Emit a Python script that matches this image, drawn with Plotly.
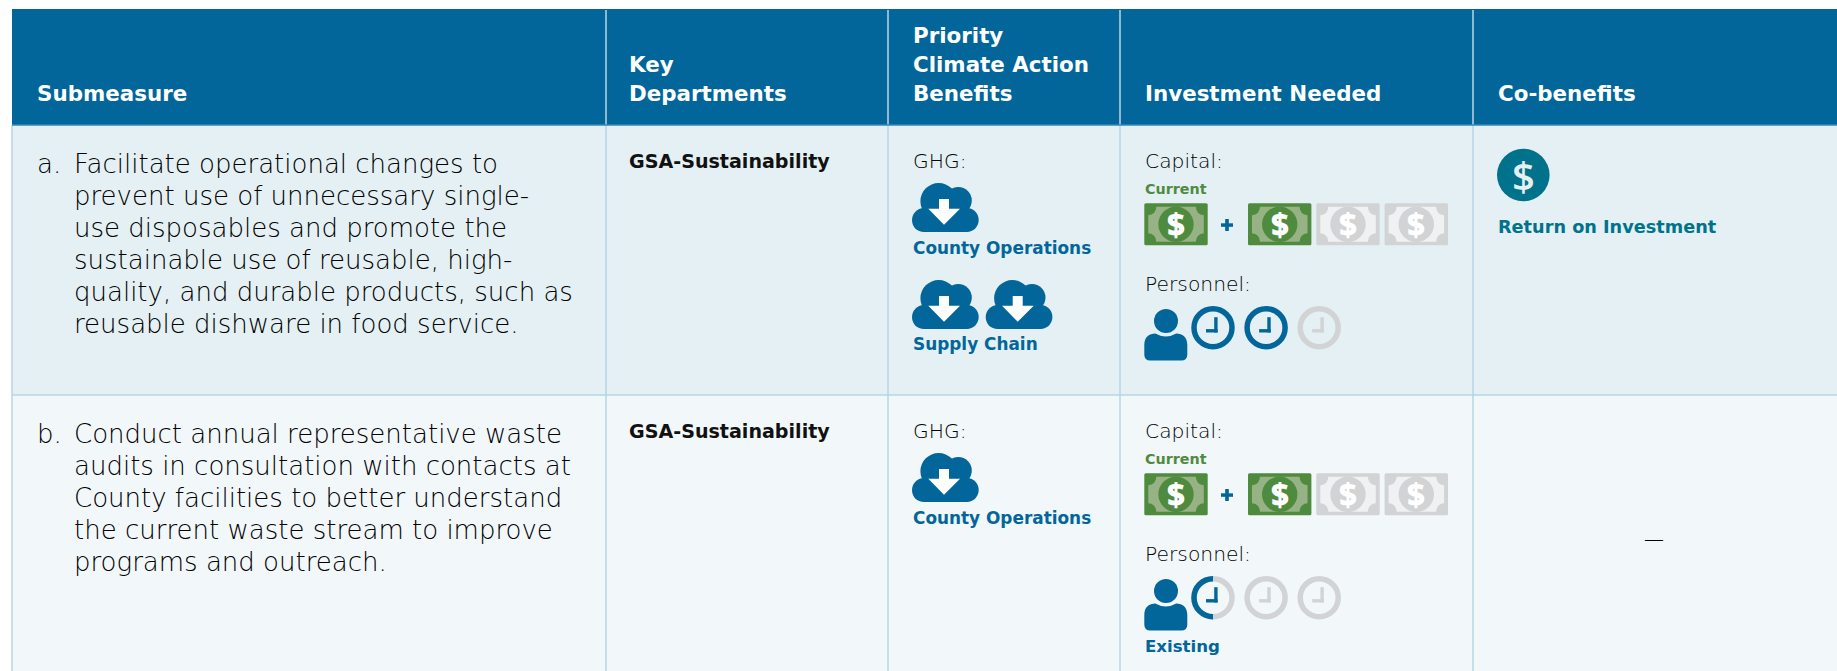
import plotly.graph_objects as go

# ---------- data ----------
header_labels = [["Submeasure"], ["Key", "Departments"], ["Priority", "Climate Action", "Benefits"],
                 ["Investment Needed"], ["Co-benefits"]]
row_letters = ["a.", "b."]
submeasure_lines = [
    ["Facilitate operational changes to", "prevent use of unnecessary single-",
     "use disposables and promote the", "sustainable use of reusable, high-",
     "quality, and durable products, such as", "reusable dishware in food service."],
    ["Conduct annual representative waste", "audits in consultation with contacts at",
     "County facilities to better understand", "the current waste stream to improve",
     "programs and outreach."],
]
departments = ["GSA-Sustainability", "GSA-Sustainability"]
ghg_labels = [["County Operations", "Supply Chain"], ["County Operations"]]
ghg_clouds = [[1, 2], [1]]
capital_current = [1, 1]
capital_added = [1, 1]
capital_scale = 3
personnel_hours = [[1, 1, 0], [0.5, 0, 0]]
personnel_notes = ["", "Existing"]
cobenefits = ["Return on Investment", None]

# ---------- style ----------
W, H = 1837, 671
BLUE = "#02669a"; GREEN = "#4f8b3f"; LGREEN = "#97b385"; GRAY = "#d1d3d4"; LGRAY = "#f0f1f2"
TEAL = "#00728c"; INK = "#000000"; GRID = "#b7d4e4"
ROW_BG = ["#e4f0f3", "#f2f7fa"]
LIGHT = "DejaVu Sans"; BOLD = "DejaVu Sans"
COL_X = [12, 606, 888, 1120, 1473]
TEXT_X = [36, 628, 911.5, 1144.3, 1496.5]
HEAD_TOP, HEAD_BOT, ROW_H = 9, 125, 270

shapes, ann = [], []

def text(x, y, s, size, color, weight=200, anchor="left", family=LIGHT):
    ann.append(dict(x=x, y=y, xref="x", yref="y", text=s, showarrow=False, xanchor=anchor, yanchor="middle",
                    align="left", borderpad=0,
                    font=dict(family=family, size=size, color=color, weight=weight)))

def path(d, fill=None, line=None, lw=0):
    s = dict(type="path", xref="x", yref="y", path=d, line=dict(width=lw, color=line or "rgba(0,0,0,0)"))
    s["fillcolor"] = fill or "rgba(0,0,0,0)"
    shapes.append(s)

def rect(x0, y0, x1, y1, fill, line=None, lw=0):
    shapes.append(dict(type="rect", xref="x", yref="y", x0=x0, y0=y0, x1=x1, y1=y1, fillcolor=fill,
                       line=dict(width=lw, color=line or "rgba(0,0,0,0)")))

def circle(cx, cy, r, fill=None, line=None, lw=0):
    shapes.append(dict(type="circle", xref="x", yref="y", x0=cx-r, x1=cx+r, y0=cy-r, y1=cy+r,
                       fillcolor=fill or "rgba(0,0,0,0)", line=dict(width=lw, color=line or "rgba(0,0,0,0)")))

def cloud(x, y):
    circle(x+26.7, y+18.3, 18.3, BLUE)
    circle(x+46.3, y+17.5, 13.5, BLUE)
    d = (f"M{x+12},{y+25} H{x+55} C{x+62},{y+25} {x+66.7},{y+31} {x+66.7},{y+37} "
         f"C{x+66.7},{y+44} {x+61},{y+49} {x+55},{y+49} H{x+12} "
         f"C{x+5},{y+49} {x},{y+44} {x},{y+37} C{x},{y+31} {x+5},{y+25} {x+12},{y+25} Z")
    path(d, BLUE)
    a = (f"M{x+27},{y+16} H{x+37} V{y+25.7} H{x+48} L{x+32},{y+41.7} L{x+16.3},{y+25.7} H{x+27} Z")
    path(a, "#ffffff")

def bill(x, y, on):
    bg, light = (GREEN, LGREEN) if on else (GRAY, LGRAY)
    w, h = 63.4, 42
    path(f"M{x+1.5},{y} H{x+w-1.5} Q{x+w},{y} {x+w},{y+1.5} V{y+h-1.5} Q{x+w},{y+h} {x+w-1.5},{y+h} "
         f"H{x+1.5} Q{x},{y+h} {x},{y+h-1.5} V{y+1.5} Q{x},{y} {x+1.5},{y} Z", bg)
    path(f"M{x+12},{y+3.5} H{x+51.5} Q{x+52},{y+11.5} {x+59.5},{y+12} V{y+30} Q{x+52},{y+30.5} {x+51.5},{y+38.5} "
         f"H{x+12} Q{x+11.5},{y+30.5} {x+4},{y+30} V{y+12} Q{x+11.5},{y+11.5} {x+12},{y+3.5} Z", light)
    circle(x+w/2, y+21, 17.7, bg)
    text(x+w/2, y+20.5, "$", 31, "#ffffff", 800, "center", "Open Sans")

def person(x, y):
    circle(x+21.7, y+12, 12, BLUE)
    path(f"M{x},{y+36} C{x},{y+28} {x+5},{y+24.5} {x+11},{y+24.5} Q{x+21.5},{y+30.5} {x+32},{y+24.5} "
         f"C{x+38},{y+24.5} {x+43},{y+28} {x+43},{y+36} V{y+45.5} Q{x+43},{y+51.5} {x+37},{y+51.5} "
         f"H{x+6} Q{x},{y+51.5} {x},{y+45.5} Z", BLUE)

def clock(cx, cy, frac):
    r, lw, k = 19, 5.5, 0.5523
    circle(cx, cy, r, None, BLUE if frac >= 1 else GRAY, lw)
    if 0 < frac < 1:
        path(f"M{cx},{cy-r} C{cx-k*r},{cy-r} {cx-r},{cy-k*r} {cx-r},{cy} "
             f"C{cx-r},{cy+k*r} {cx-k*r},{cy+r} {cx},{cy+r}", None, BLUE, lw)
    c = BLUE if frac > 0 else GRAY
    rect(cx+1.2, cy-10.5, cx+4.6, cy+4.8, c)
    rect(cx-7, cy+1.4, cx+4.6, cy+4.8, c)

# ---------- table frame ----------
rect(12, HEAD_TOP, W, HEAD_BOT, BLUE)
rect(12, HEAD_BOT, W, HEAD_BOT + ROW_H, ROW_BG[0])
rect(12, HEAD_BOT + ROW_H, W, H, ROW_BG[1])
for x in COL_X[1:]:
    shapes.append(dict(type="line", xref="x", yref="y", x0=x, x1=x, y0=HEAD_TOP+1, y1=HEAD_BOT, line=dict(color="#bcd6e5", width=1.5)))
for x in COL_X:
    shapes.append(dict(type="line", xref="x", yref="y", x0=x, x1=x, y0=HEAD_BOT, y1=H, line=dict(color=GRID, width=1.5)))
shapes.append(dict(type="line", xref="x", yref="y", x0=12, x1=W, y0=HEAD_BOT+ROW_H, y1=HEAD_BOT+ROW_H, line=dict(color=GRID, width=1.5)))
shapes.append(dict(type="line", xref="x", yref="y", x0=12, x1=W, y0=HEAD_BOT, y1=HEAD_BOT, line=dict(color="#3a86b5", width=1.5)))

# ---------- header ----------
for x, lines in zip(TEXT_X, header_labels):
    n = len(lines)
    for j, s in enumerate(lines):
        text(x, 93 - (n-1-j)*29, s, 21.4, "#ffffff", 700, family=BOLD)

# ---------- rows ----------
for i in range(2):
    o = i * ROW_H
    text(TEXT_X[0], 164.3 + o, row_letters[i], 26, INK)
    for j, s in enumerate(submeasure_lines[i]):
        text(72.5, 164.3 + o + j*32, s, 26, INK)
    text(TEXT_X[1], 161.7 + o, departments[i], 19.1, "#111111", 700, family=BOLD)

    text(TEXT_X[2], 161 + o, "GHG:", 20.3, INK)
    for k, (lab, n) in enumerate(zip(ghg_labels[i], ghg_clouds[i])):
        for c in range(n):
            cloud(912 + c*73.7, 183 + o + k*97)
        text(TEXT_X[2], 247.5 + o + k*96, lab, 16.9, BLUE, 700, family=BOLD)

    text(TEXT_X[3], 161 + o, "Capital:", 20.3, INK)
    text(TEXT_X[3], 189.3 + o, "Current", 14.3, GREEN, 700, family=BOLD)
    bill(1144.3, 203.3 + o, capital_current[i] > 0)
    rect(1221, 223.3 + o, 1233, 226.8 + o, BLUE)
    rect(1225.2, 219 + o, 1228.8, 231 + o, BLUE)
    for b in range(capital_scale):
        bill(1248 + b*68.3, 203.3 + o, b < capital_added[i])

    text(TEXT_X[3], 283.5 + o, "Personnel:", 20.3, INK)
    person(1144.3, 309 + o)
    for c, h in enumerate(personnel_hours[i]):
        clock(1213 + c*53.1, 327.7 + o, h)
    if personnel_notes[i]:
        text(TEXT_X[3], 376 + o, personnel_notes[i], 16.6, BLUE, 700, family=BOLD)

    if cobenefits[i]:
        circle(1523.3, 175 + o, 26.3, TEAL)
        text(1523.3, 175 + o, "$", 40, ROW_BG[i], 600, "center", "Open Sans")
        text(TEXT_X[4], 226.5 + o, cobenefits[i], 17.7, TEAL, 700, family=BOLD)
    else:
        text(1654, 268.5 + o, "—", 20, INK, 200, "center")

fig = go.Figure(go.Scatter(x=[0, W], y=[0, H], mode="none", hoverinfo="skip", showlegend=False))
fig.update_layout(width=W, height=H, margin=dict(l=0, r=0, t=0, b=0), paper_bgcolor="#ffffff", plot_bgcolor="#ffffff",
                  xaxis=dict(range=[0, W], visible=False, fixedrange=True),
                  yaxis=dict(range=[H, 0], visible=False, fixedrange=True),
                  shapes=shapes, annotations=ann, showlegend=False)
fig.write_html("out.html", config={"displayModeBar": False},
               post_script="document.body.style.margin='0';document.body.style.overflow='hidden';")
